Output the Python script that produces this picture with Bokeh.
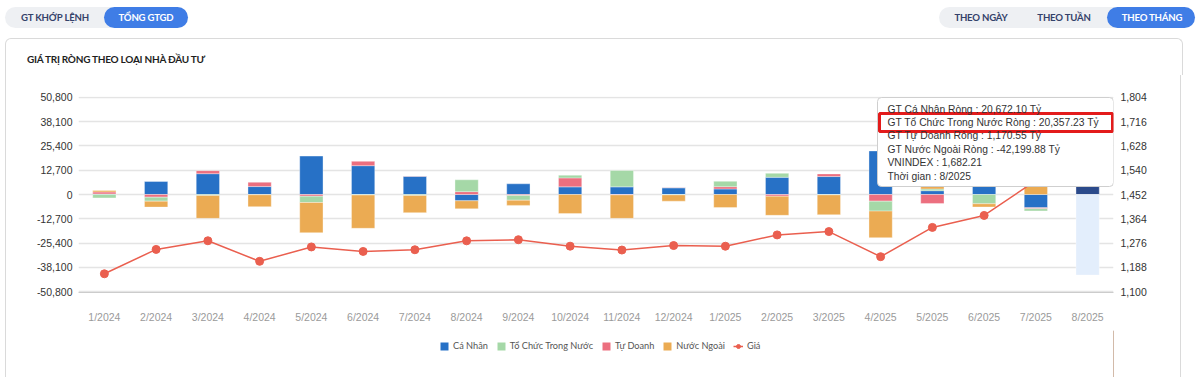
from bokeh.plotting import figure
from bokeh.layouts import column
from bokeh.models import (ColumnDataSource, FactorRange, Range1d, LinearAxis, FixedTicker,
                          NumeralTickFormatter, Legend, LegendItem, Label, BoxAnnotation, Div)
from bokeh.embed import file_html
from bokeh.resources import INLINE

# ---------------- data ----------------
months = ["1/2024", "2/2024", "3/2024", "4/2024", "5/2024", "6/2024", "7/2024", "8/2024",
          "9/2024", "10/2024", "11/2024", "12/2024", "1/2025", "2/2025", "3/2025", "4/2025",
          "5/2025", "6/2025", "7/2025", "8/2025"]
ca_nhan = [300, 6800, 10900, 4150, 20100, 15100, 9500, -3300, 5600, 4000, 4000, 3500,
           2900, 9000, 9400, 22800, 2000, 6500, -6900, 20672.10]
tu_doanh = [1050, -1400, 1600, 2250, -900, 2250, 200, 1500, -500, 4700, -200, 150,
            1200, -900, 1400, -3500, -4700, 200, -500, 1170.55]
to_chuc = [-1800, -2100, -500, -150, -3300, -300, -500, 6200, -2500, 1400, 8600, -200,
           2800, 2100, -200, -5200, 900, -4850, -1200, 20357.23]
nuoc_ngoai = [700, -3100, -12000, -6200, -15800, -17400, -9000, -4200, -2700, -10000, -12300, -3300,
              -6800, -10000, -10400, -13900, 1900, -1700, 8600, -42199.88]
vnindex = [1164.31, 1252.73, 1284.09, 1209.52, 1261.72, 1245.32, 1251.48, 1283.87, 1287.94, 1264.48,
           1250.46, 1266.78, 1264.29, 1305.36, 1317.46, 1226.33, 1332.60, 1376.07, 1502.52, 1682.21]
left_ticks = [-50800, -38100, -25400, -12700, 0, 12700, 25400, 38100, 50800]
right_ticks = [1100, 1188, 1276, 1364, 1452, 1540, 1628, 1716, 1804]
series_names = ["Cá Nhân", "Tổ Chức Trong Nước", "Tự Doanh", "Nước Ngoài"]
line_name = "Giá"
tabs_left = ["GT KHỚP LỆNH", "TỔNG GTGD"]
tabs_right = ["THEO NGÀY", "THEO TUẦN", "THEO THÁNG"]
chart_title = "GIÁ TRỊ RÒNG THEO LOẠI NHÀ ĐẦU TƯ"

# ---------------- layout constants (page pixels) ----------------
HEADER_H = 75
LEG_H = 47
CARD_X0, CARD_X1 = 5, 1182
CANVAS_X0 = CARD_X0 + 1
FIG_W = CARD_X1 - CANVAS_X0       # 1176
FIG_H = 377 - HEADER_H - LEG_H    # 255
PFL, PFR, PFT, PFB = 78, 1113, 96, 292    # frame edges (page)
FL = PFL - CANVAS_X0
FR = PFR - CANVAS_X0
FT = PFT - HEADER_H
FB = PFB - HEADER_H
PAD = 520
BORDER = {"border-left": "1px solid #dadada", "border-right": "1px solid #dadada"}
UI_FONT = "Lato"

def sx(px):          # page x -> frame-relative screen x
    return px - PFL

def sy(py):          # page y -> frame-relative screen y (upwards)
    return PFB - py

C_BLUE, C_GREEN, C_PINK, C_ORANGE = "#2771c6", "#a5d8a7", "#ec6f7f", "#ebab53"
HL_BLUE, HL_ORANGE = "#2b4a8b", "#e3eefc"
C_LINE = "#ea5f4f"
NAVY_TXT = "#34426a"
PILL_BG, PILL_ON = "#eef0f3", "#3f7de6"

# ---------------- header (tabs, card top, title) ----------------
def pill(l, w, bg):
    return (f'<div style="position:absolute;left:{l}px;top:7px;width:{w}px;height:21px;'
            f'border-radius:11px;background:{bg};"></div>')

def tab_text(cx, t, color):
    return (f'<div style="position:absolute;left:{cx - 60}px;top:7px;width:120px;height:21px;'
            f'line-height:21px;text-align:center;font-family:\'{UI_FONT}\';font-weight:700;'
            f'font-size:9.6px;letter-spacing:-0.2px;color:{color};white-space:nowrap;">{t}</div>')

html = ['<div style="position:relative;width:1200px;height:75px;overflow:hidden;background:white;">']
html.append(pill(5, 183, PILL_BG))
html.append(pill(104, 84, PILL_ON))
html.append(tab_text(55, tabs_left[0], NAVY_TXT))
html.append(tab_text(146, tabs_left[1], "white"))
html.append(pill(939, 256, PILL_BG))
html.append(pill(1107, 88, PILL_ON))
html.append(tab_text(981, tabs_right[0], NAVY_TXT))
html.append(tab_text(1064, tabs_right[1], NAVY_TXT))
html.append(tab_text(1152, tabs_right[2], "white"))
html.append(f'<div style="position:absolute;left:{CARD_X0}px;top:38px;width:{CARD_X1 - CARD_X0 + 1}px;'
            f'height:60px;box-sizing:border-box;border:1px solid #dadada;border-bottom:none;'
            f'border-radius:6px 6px 0 0;"></div>')
html.append(f'<div style="position:absolute;left:27px;top:51px;height:16px;line-height:16px;'
            f'font-family:\'{UI_FONT}\';font-weight:700;font-size:10px;letter-spacing:-0.25px;'
            f'color:#1e1e1e;white-space:nowrap;">{chart_title}</div>')
html.append('</div>')
header = Div(text="".join(html), width=1200, height=HEADER_H, margin=(0, 0, 0, 0))

# ---------------- main figure ----------------
p = figure(width=FIG_W, height=FIG_H, x_range=FactorRange(factors=months, range_padding=0),
           y_range=Range1d(left_ticks[0] - PAD, left_ticks[-1] + PAD),
           output_backend="svg", toolbar_location=None,
           min_border_left=FL, min_border_right=FIG_W - FR, min_border_top=FT,
           min_border_bottom=FIG_H - FB)
p.margin = (0, 0, 0, CARD_X0)
p.styles = dict(BORDER)
p.background_fill_color = "white"
p.border_fill_color = "white"
p.outline_line_color = None

k = (right_ticks[-1] - right_ticks[0]) / (left_ticks[-1] - left_ticks[0])
p.extra_y_ranges = {"idx": Range1d(right_ticks[0] - PAD * k, right_ticks[-1] + PAD * k)}

# stacked bars (stack order: Cá Nhân, Tự Doanh, Tổ Chức, Nước Ngoài)
stack_order = [(ca_nhan, C_BLUE, HL_BLUE),
               (tu_doanh, C_PINK, C_PINK),
               (to_chuc, C_GREEN, C_GREEN),
               (nuoc_ngoai, C_ORANGE, HL_ORANGE)]
pos = [0.0] * len(months)
neg = [0.0] * len(months)
for vals, col, hl in stack_order:
    bottoms, tops = [], []
    for i, v in enumerate(vals):
        if v >= 0:
            bottoms.append(pos[i]); tops.append(pos[i] + v); pos[i] += v
        else:
            bottoms.append(neg[i]); tops.append(neg[i] + v); neg[i] += v
    colors = [col] * (len(months) - 1) + [hl]
    src = ColumnDataSource(dict(x=months, top=tops, bottom=bottoms, c=colors))
    p.vbar(x="x", top="top", bottom="bottom", width=0.45, source=src,
           fill_color="c", line_color="white", line_alpha=0.35, line_width=1)

# VNINDEX line
lsrc = ColumnDataSource(dict(x=months, y=vnindex))
p.line("x", "y", source=lsrc, y_range_name="idx", line_color=C_LINE, line_width=1.5)
p.scatter("x", "y", source=lsrc, y_range_name="idx", size=8, fill_color=C_LINE,
          line_color=C_LINE)

# axes & grid
yl = p.yaxis[0]
yl.ticker = FixedTicker(ticks=left_ticks)
yl.formatter = NumeralTickFormatter(format="0,0")
ra = LinearAxis(y_range_name="idx", ticker=FixedTicker(ticks=right_ticks),
                formatter=NumeralTickFormatter(format="0,0"))
p.add_layout(ra, "right")
for ax in (yl, ra):
    ax.axis_line_color = None
    ax.major_tick_line_color = None
    ax.minor_tick_line_color = None
    ax.major_tick_out = 0
    ax.major_tick_in = 0
    ax.major_label_text_font = "Liberation Sans"
    ax.major_label_text_font_size = "10.5px"
    ax.major_label_text_color = "#333333"
yl.major_label_standoff = 6
ra.major_label_standoff = 7
xa = p.xaxis[0]
xa.axis_line_color = "#cccccc"
xa.major_tick_line_color = None
xa.minor_tick_line_color = None
xa.major_tick_out = 0
xa.major_tick_in = 0
xa.major_label_standoff = 18
xa.major_label_text_font = "Liberation Sans"
xa.major_label_text_font_size = "10.5px"
xa.major_label_text_color = "#9a9a9a"
p.xgrid.grid_line_color = None
p.ygrid.ticker = FixedTicker(ticks=left_ticks)
p.ygrid.grid_line_color = "#e4e4e4"
p.ygrid.grid_line_width = 1.5

# tooltip (inside the frame)
def box(l, r, t, b, fill=None, line=None, lw=1, radius=0):
    ba = BoxAnnotation(left=sx(l), right=sx(r), top=sy(t), bottom=sy(b),
                       left_units="screen", right_units="screen",
                       top_units="screen", bottom_units="screen",
                       fill_color=fill if fill else "white", fill_alpha=1 if fill else 0,
                       line_color=line, line_alpha=1, line_width=lw, border_radius=radius,
                       level="overlay")
    p.add_layout(ba)

box(877, 1113, 97, 186, fill="white", line="#cfcfcf", lw=1, radius=4)
box(879, 1112, 113, 131, line="#e31b1b", lw=3)
tip_lines = [
    f"GT Cá Nhân Ròng  : {ca_nhan[-1]:,.2f} Tỷ",
    f"GT Tổ Chức Trong Nước Ròng : {to_chuc[-1]:,.2f} Tỷ",
    f"GT Tự Doanh Ròng : {tu_doanh[-1]:,.2f} Tỷ",
    f"GT Nước Ngoài Ròng : {nuoc_ngoai[-1]:,.2f} Tỷ",
    f"VNINDEX : {vnindex[-1]:,.2f}",
    f"Thời gian : {months[-1]}",
]
for i, t in enumerate(tip_lines):
    lb = Label(x=sx(887), y=sy(108.5 + i * 13.4), x_units="screen", y_units="screen", text=t,
               text_font="Liberation Sans", text_font_size="10.3px", text_color="#333333",
               text_align="left", text_baseline="middle", level="overlay")
    p.add_layout(lb)

# ---------------- legend strip (separate small figure, frame aligned with the chart) ----------------
q = figure(width=FIG_W, height=LEG_H, x_range=Range1d(0, 1), y_range=Range1d(0, 1),
           x_axis_type=None, y_axis_type=None, output_backend="svg", toolbar_location=None,
           min_border=0)
q.margin = (0, 0, 0, CARD_X0)
q.styles = dict(BORDER)
q.background_fill_color = "white"
q.border_fill_color = "white"
q.outline_line_color = None
# swatch-only renderers: their single point lies outside the strip's ranges, so only the legend shows
swatch = ColumnDataSource(dict(x=[5], y=[5]))
leg_renderers = []
for col in (C_BLUE, C_GREEN, C_PINK, C_ORANGE):
    leg_renderers.append([q.vbar(x="x", top="y", width=0.1, source=swatch, fill_color=col,
                                 line_color=None)])
leg_renderers.append([q.line("x", "y", source=swatch, line_color=C_LINE, line_width=1.5),
                      q.scatter("x", "y", source=swatch, size=6, fill_color=C_LINE,
                                line_color=C_LINE)])
items = [LegendItem(label=n, renderers=r)
         for n, r in zip(series_names + [line_name], leg_renderers)]
legend = Legend(items=items, orientation="horizontal",
                location=(439 - PFL, LEG_H - (352 - (377 - LEG_H))),
                glyph_width=10, glyph_height=10, label_standoff=4, spacing=8,
                padding=0, margin=0, border_line_color=None, background_fill_alpha=0,
                label_text_font=UI_FONT, label_text_font_size="9.2px",
                label_text_color="#555555", label_height=13)
q.add_layout(legend, "center")

root = column(header, p, q, spacing=0)
open("out.html", "w").write(file_html(root, INLINE))
